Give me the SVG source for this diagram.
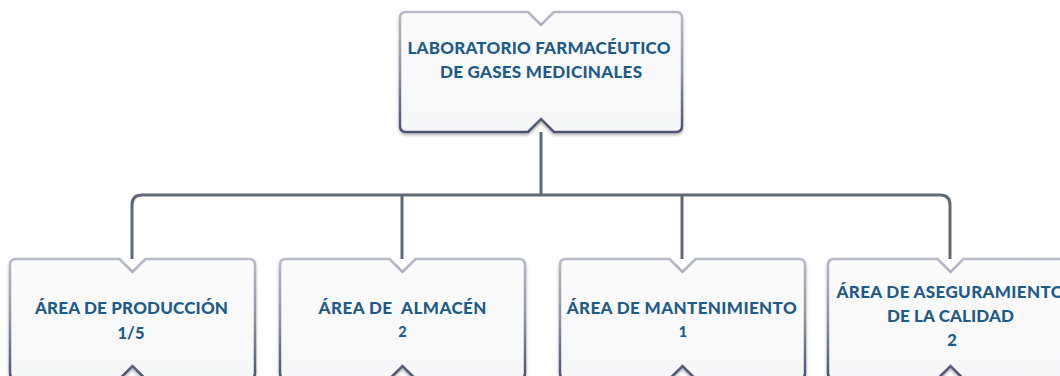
<svg xmlns="http://www.w3.org/2000/svg" xmlns:xlink="http://www.w3.org/1999/xlink" width="1060" height="376" viewBox="0 0 1060 376">
<defs>
<linearGradient id="edge" x1="0" y1="0" x2="0" y2="1">
<stop offset="0" stop-color="#b7bbc6"/>
<stop offset="0.5" stop-color="#8c93a3"/>
<stop offset="1" stop-color="#4b5470"/>
</linearGradient>
<linearGradient id="fillg" x1="0" y1="0" x2="0" y2="1">
<stop offset="0" stop-color="#fbfbfc"/>
<stop offset="1" stop-color="#f6f7f8"/>
</linearGradient>
<filter id="sh" x="-5%" y="-5%" width="110%" height="115%">
<feGaussianBlur in="SourceAlpha" stdDeviation="1.5"/>
<feOffset dy="1.5"/>
<feComponentTransfer><feFuncA type="linear" slope="0.3"/></feComponentTransfer>
<feMerge><feMergeNode/><feMergeNode in="SourceGraphic"/></feMerge>
</filter>
<path id="boxTop" d="M6,0 H128 L141,13 L154,0 H276 Q282,0 282,6 V114 Q282,120 276,120 H154 L141,107 L128,120 H6 Q0,120 0,114 V6 Q0,0 6,0 Z"/>
<path id="boxSm" d="M6,0 H109.5 L122.5,13 L135.5,0 H239 Q245,0 245,6 V114 Q245,120 239,120 H135.5 L122.5,107 L109.5,120 H6 Q0,120 0,114 V6 Q0,0 6,0 Z"/>
</defs>
<style>
.box{fill:url(#fillg);stroke:url(#edge);stroke-width:2.5;filter:url(#sh)}
.t{font-family:Lato,"Open Sans","Liberation Sans",sans-serif;font-weight:900;fill:#1f5b89;text-anchor:middle;font-size:17px}
.n{font-size:14.5px}
.f{font-size:16.5px}
.conn{fill:none;stroke:#5e6879;stroke-width:3}
</style>
<g id="connectors">
<path class="conn" d="M541,132 V195"/>
<path class="conn" d="M132,259 V205 Q132,195 142,195 H940 Q950,195 950,205 V259"/>
<path class="conn" d="M402,195 V259"/>
<path class="conn" d="M682,195 V259"/>
</g>
<g id="node-top">
<use xlink:href="#boxTop" href="#boxTop" x="400" y="12" class="box"/>
<text class="t" x="539" y="54" textLength="263">LABORATORIO FARMACÉUTICO</text>
<text class="t" x="541" y="78" textLength="202">DE GASES MEDICINALES</text>
</g>
<g id="node-produccion">
<use xlink:href="#boxSm" href="#boxSm" x="10" y="259" class="box"/>
<text class="t" x="131.5" y="313.5" textLength="193">ÁREA DE PRODUCCIÓN</text>
<text class="t f" x="131" y="338.5">1/5</text>
</g>
<g id="node-almacen">
<use xlink:href="#boxSm" href="#boxSm" x="280" y="259" class="box"/>
<text class="t" x="402.5" y="314" textLength="168" xml:space="preserve">ÁREA DE  ALMACÉN</text>
<text class="t n" x="402.5" y="337">2</text>
</g>
<g id="node-mantenimiento">
<use xlink:href="#boxSm" href="#boxSm" x="560" y="259" class="box"/>
<text class="t" x="681.7" y="314" textLength="230">ÁREA DE MANTENIMIENTO</text>
<text class="t n" x="683" y="337">1</text>
</g>
<g id="node-aseguramiento">
<use xlink:href="#boxSm" href="#boxSm" x="828" y="259" class="box"/>
<text class="t" x="950.5" y="298" textLength="228">ÁREA DE ASEGURAMIENTO</text>
<text class="t" x="950.5" y="322" textLength="127">DE LA CALIDAD</text>
<text class="t f" x="952" y="346">2</text>
</g>
</svg>
